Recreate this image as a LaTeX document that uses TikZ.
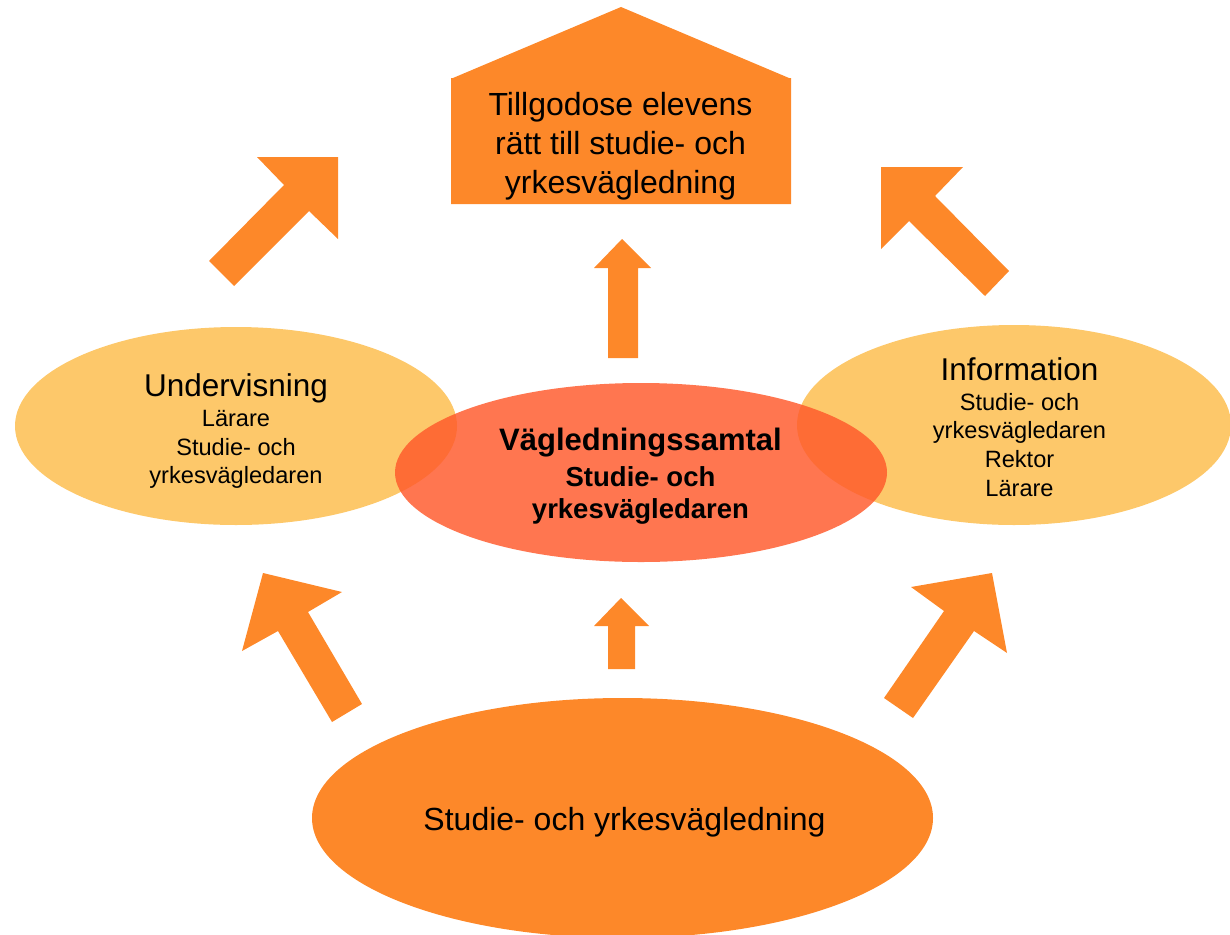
\documentclass[tikz,border=0pt]{standalone}
\usepackage{fontspec}
\setmainfont{Liberation Sans}
\usetikzlibrary{shapes.geometric}
\definecolor{arroworange}{RGB}{253,136,41}
\definecolor{lightyellow}{RGB}{253,200,106}
\definecolor{redorange}{RGB}{255,88,42}
\tikzset{
  blockarrow/.style={fill=arroworange, draw=none},
  oval/.style={ellipse, inner sep=0pt, draw=none},
  lbl/.style={anchor=base, inner sep=0pt, text=black},
  bigtxt/.style={font=\fontsize{31.5}{37}\selectfont},
  smalltxt/.style={font=\fontsize{23.6}{28}\selectfont},
  boldbig/.style={font=\bfseries\fontsize{31}{37}\selectfont},
  boldsmall/.style={font=\bfseries\fontsize{27.5}{33}\selectfont},
}
\begin{document}
\begin{tikzpicture}[x=1pt,y=-1pt]
\useasboundingbox (0,0) rectangle (1230,934);
\clip (0,0) rectangle (1230,934);

% house
\fill[arroworange] (451,78) -- (453,78) -- (621,7) -- (789,78) -- (791,78) -- (791,204) -- (451,204) -- cycle;
\node[lbl, font=\fontsize{32}{38}\selectfont] (h1) at (620.5,115) {Tillgodose elevens};
\node[lbl, font=\fontsize{32}{38}\selectfont] (h2) at (620.5,154) {rätt till studie- och};
\node[lbl, font=\fontsize{32}{38}\selectfont] (h3) at (620.5,193) {yrkesvägledning};

% block arrows
\fill[blockarrow] (257,157) -- (338,157) -- (338,239) -- (309,211) -- (234,286) -- (209,261) -- (284,185) -- cycle;
\fill[blockarrow] (881,167) -- (963,167) -- (935,196) -- (1009,271) -- (985,296) -- (909,221) -- (881,249) -- cycle;
\fill[blockarrow] (263,573) -- (342,592) -- (308,612) -- (362,704) -- (332,722) -- (278,631) -- (242,651) -- cycle;
\fill[blockarrow] (992,573) -- (1007,653) -- (974,631) -- (913,718) -- (884,698) -- (944,611) -- (911,587) -- cycle;
\fill[blockarrow] (622,239) -- (651,268) -- (638,268) -- (638,358) -- (608,358) -- (608,268) -- (594,268) -- cycle;
\fill[blockarrow] (621,598) -- (649,626) -- (635,626) -- (635,669) -- (608,669) -- (608,626) -- (594,626) -- cycle;

% ellipses
\node[oval, fill=arroworange, minimum width=621pt, minimum height=240pt] (bottom) at (622.5,818) {};
\node[oval, fill=lightyellow, minimum width=442pt, minimum height=198pt] (left) at (236,426) {};
\node[oval, fill=lightyellow, minimum width=434pt, minimum height=200pt] (right) at (1014,425) {};
\node[oval, fill=redorange, fill opacity=0.82, minimum width=492pt, minimum height=179pt] (center) at (641,472.5) {};

% left text
\node[lbl, bigtxt] (l1) at (236,396) {Undervisning};
\node[lbl, smalltxt] (l2) at (236,426) {Lärare};
\node[lbl, smalltxt] (l3) at (236,455) {Studie- och};
\node[lbl, smalltxt] (l4) at (236,483) {yrkesvägledaren};

% right text
\node[lbl, bigtxt] (r1) at (1019.5,380) {Information};
\node[lbl, smalltxt] (r2) at (1019.5,410) {Studie- och};
\node[lbl, smalltxt] (r3) at (1019.5,438) {yrkesvägledaren};
\node[lbl, smalltxt] (r4) at (1019.5,467) {Rektor};
\node[lbl, smalltxt] (r5) at (1019.5,496) {Lärare};

% center text
\node[lbl, boldbig] (c1) at (640.5,450) {Vägledningssamtal};
\node[lbl, boldsmall] (c2) at (640.5,486) {Studie- och};
\node[lbl, boldsmall] (c3) at (640.5,518) {yrkesvägledaren};

% bottom text
\node[lbl, font=\fontsize{32}{38}\selectfont] (b1) at (624.5,830) {Studie- och yrkesvägledning};
\end{tikzpicture}
\end{document}
